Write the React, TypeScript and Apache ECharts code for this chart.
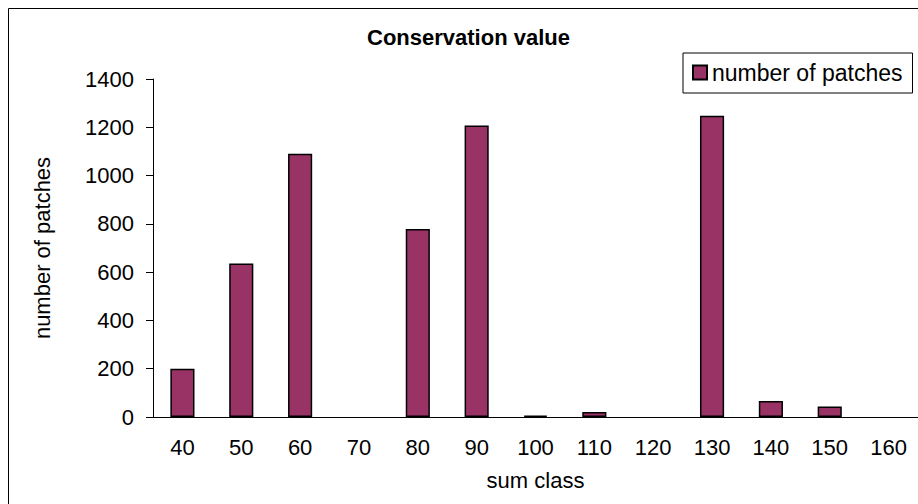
import React, { useEffect, useRef } from "react";
import * as echarts from "echarts";

const categories = ["40", "50", "60", "70", "80", "90", "100", "110", "120", "130", "140", "150", "160"];
const patches = [200, 636, 1090, 0, 779, 1207, 6, 21, 0, 1248, 66, 44, 0];
const yTicks = { min: 0, max: 1400, interval: 200 };

const FONT = "'Liberation Sans', Arial, sans-serif";

export default function App() {
  const ref = useRef<HTMLDivElement>(null);
  useEffect(() => {
    if (!ref.current) return;
    const chart = echarts.init(ref.current, undefined, { renderer: "svg" });
    chart.setOption({
      animation: false,
      backgroundColor: "#ffffff",
      textStyle: { fontFamily: FONT, color: "#000" },
      title: {
        text: "Conservation value",
        left: 367,
        top: 26,
        padding: 0,
        textStyle: { fontFamily: FONT, fontWeight: "bold", fontSize: 22, color: "#000" },
      },
      legend: {
        left: 683,
        top: 53,
        orient: "horizontal",
        borderColor: "#000",
        borderWidth: 1,
        padding: [8, 10, 9, 9],
        itemWidth: 14,
        itemHeight: 14,
        icon: "rect",
        textStyle: { fontFamily: FONT, fontSize: 23, color: "#000", padding: [0, 0, 0, 0] },
        data: ["number of patches"],
      },
      graphic: [
        {
          type: "rect",
          z: -10,
          shape: { x: 8.5, y: 8.5, width: 1200, height: 1200 },
          style: { fill: "none", stroke: "#000", lineWidth: 1 },
        },
      ],
      grid: { left: 153, top: 79, right: -4, bottom: 87, containLabel: false },
      xAxis: {
        type: "category",
        data: categories,
        name: "sum class",
        nameLocation: "middle",
        nameGap: 52,
        nameTextStyle: { fontFamily: FONT, fontSize: 22, color: "#000" },
        axisLine: { lineStyle: { color: "#000", width: 1 } },
        axisTick: { length: 6, lineStyle: { color: "#000" } },
        axisLabel: { fontFamily: FONT, fontSize: 22, color: "#000", margin: 19 },
        splitLine: { show: false },
      },
      yAxis: {
        type: "value",
        min: yTicks.min,
        max: yTicks.max,
        interval: yTicks.interval,
        name: "number of patches",
        nameLocation: "middle",
        nameGap: 100,
        nameTextStyle: { fontFamily: FONT, fontSize: 22, color: "#000" },
        axisLine: { show: true, lineStyle: { color: "#000", width: 1 } },
        axisTick: { show: true, length: 7, lineStyle: { color: "#000" } },
        axisLabel: {
          fontFamily: FONT,
          fontSize: 22,
          color: "#000",
          margin: 19,
          formatter: (v: number) => String(v),
        },
        splitLine: { show: false },
      },
      series: [
        {
          name: "number of patches",
          type: "bar",
          data: patches.map((v) => (v === 0 ? "-" : v)),
          barWidth: "41%",
          itemStyle: { color: "#993366", borderColor: "#000", borderWidth: 1.5 },
        },
      ],
    });
    return () => chart.dispose();
  }, []);
  return (
    <div
      ref={ref}
      style={{ position: "fixed", left: 0, top: 0, width: 918, height: 504 }}
    />
  );
}
